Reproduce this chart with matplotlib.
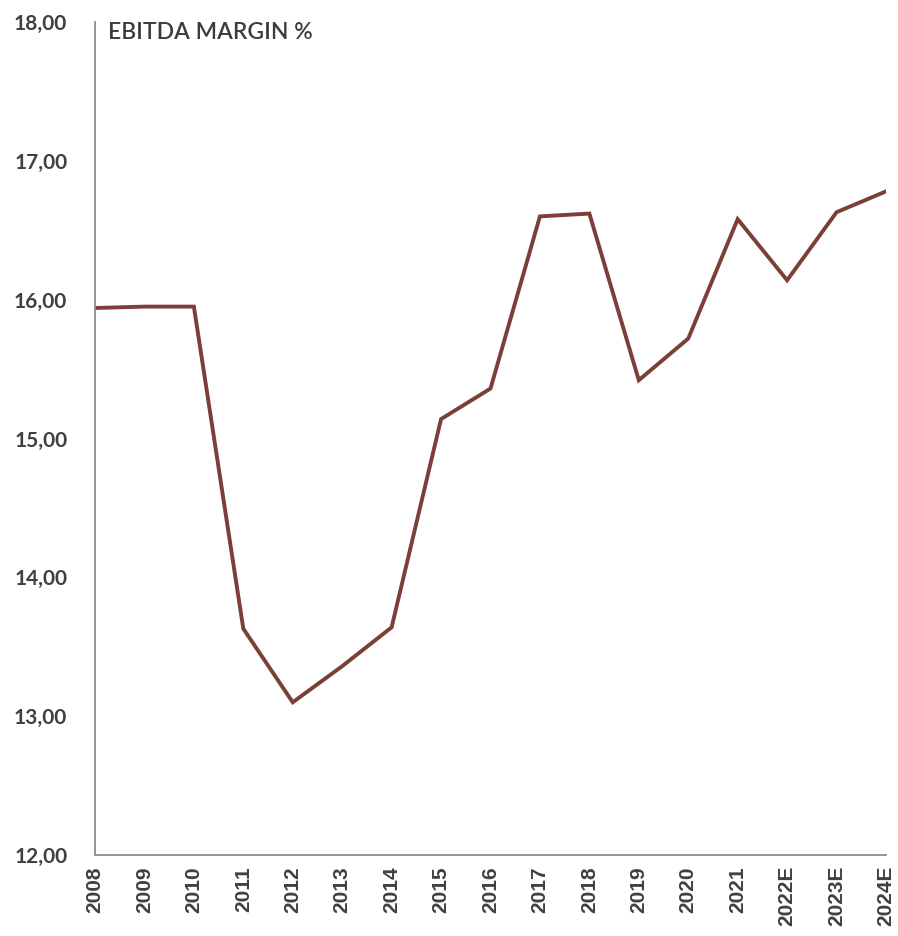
import matplotlib
matplotlib.use("Agg")
import matplotlib.pyplot as plt

years = ["2008", "2009", "2010", "2011", "2012", "2013", "2014", "2015", "2016",
         "2017", "2018", "2019", "2020", "2021", "2022E", "2023E", "2024E"]
ebitda_margin = [15.94, 15.95, 15.95, 13.63, 13.10, 13.36, 13.64, 15.14, 15.36,
                 16.60, 16.62, 15.42, 15.72, 16.58, 16.14, 16.63, 16.78]
y_ticks = [12, 13, 14, 15, 16, 17, 18]

fig = plt.figure(figsize=(8.98, 9.36), dpi=100)
ax = fig.add_axes([95 / 898, 1 - 855 / 936, (886 - 95) / 898, (855 - 22) / 936])

x = list(range(len(years)))
ax.plot(x, ebitda_margin, color="#7B3F38", linewidth=2.8, solid_joinstyle="miter")

ax.set_xlim(0, len(years) - 1)
ax.set_ylim(12, 18)
ax.set_yticks(y_ticks)
ax.set_yticklabels([f"{v:.2f}".replace(".", ",") for v in y_ticks],
                   fontfamily="Lato", fontweight="bold", fontsize=15, color="#404040")
ax.set_xticks(x)
ax.set_xticklabels(years, rotation=90, fontfamily="Liberation Sans",
                   fontweight="bold", fontsize=15, color="#404040")
ax.tick_params(axis="y", length=0, pad=20)
ax.tick_params(axis="x", length=0, pad=8)

for side in ("top", "right"):
    ax.spines[side].set_visible(False)
for side in ("left", "bottom"):
    ax.spines[side].set_color("#8c8c8c")
    ax.spines[side].set_linewidth(1.3)

ax.text(13 / 791, 1.0, "EBITDA MARGIN %", transform=ax.transAxes,
        ha="left", va="top", fontfamily="Lato", fontweight="semibold",
        fontsize=16.5, color="#3c3c3c")

fig.savefig("out.png", dpi=100)
